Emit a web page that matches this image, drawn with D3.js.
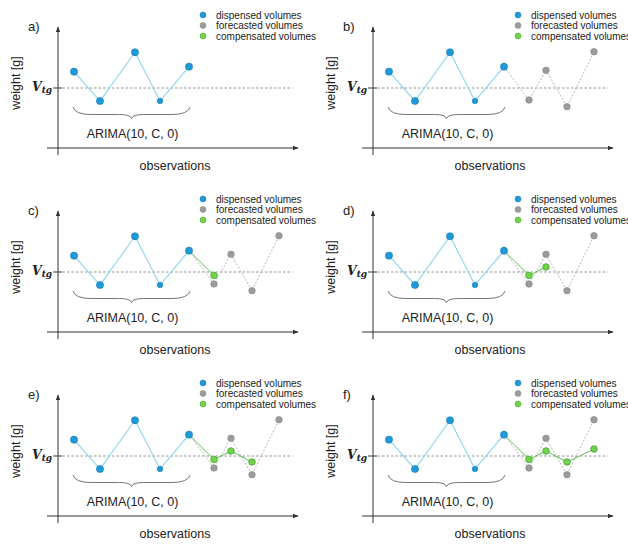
<!DOCTYPE html>
<html>
<head>
<meta charset="utf-8">
<script src="https://cdn.jsdelivr.net/npm/d3@7/dist/d3.min.js"></script>
<style>
  html, body { margin: 0; padding: 0; background: #fff; }
  svg { display: block; }
  text { font-family: "Liberation Sans", Arial, sans-serif; fill: #222; }
</style>
</head>
<body>
<svg id="chart" width="628" height="544"></svg>
<script>
// ---- data ----
const panelLabels = ["a)", "b)", "c)", "d)", "e)", "f)"];
const dispensedX = [1.6, 4.2, 7.7, 10.2, 13.1];
const dispensedY = [7.63, 4.7, 9.57, 4.7, 8.13];
const forecastX = [15.6, 17.3, 19.4, 22.1];
const forecastY = [4.8, 7.77, 4.13, 9.63];
const compensatedY = [5.65, 6.5, 5.4, 6.7];
const forecastShown = [0, 4, 4, 4, 4, 4];
const compensatedShown = [0, 0, 1, 2, 3, 4];
const vtgValue = 6;
const legendLabels = ["dispensed volumes", "forecasted volumes", "compensated volumes"];
const arimaLabel = "ARIMA(10, \u03F9, 0)";
const xAxisLabel = "observations";
const yAxisLabel = "weight [g]";

// ---- styles ----
const C = {
  blueFill: "#1f9ad8", blueStroke: "#1878b4", blueLine: "#8fd3f0",
  grayFill: "#9b9b9b", grayStroke: "#8a8a8a", grayLine: "#b0b0b0",
  greenFill: "#74d14a", greenStroke: "#3b9e35", greenLine: "#62bf55",
  axis: "#333", vtg: "#888", brace: "#666"
};

const svg = d3.select("#chart");
const x = d3.scaleLinear().domain([0, 24]).range([58, 298]);
const y = d3.scaleLinear().domain([0, 12]).range([148, 28]);

const defs = svg.append("defs");
defs.append("marker").attr("id", "arrow")
  .attr("viewBox", "0 0 10 10").attr("refX", 9).attr("refY", 5)
  .attr("markerWidth", 6).attr("markerHeight", 6).attr("orient", "auto")
  .append("path").attr("d", "M0,1 L10,5 L0,9 Z").attr("fill", C.axis);

const line = d3.line().x(d => x(d[0])).y(d => y(d[1]));

panelLabels.forEach((lab, i) => {
  const col = i % 2, row = Math.floor(i / 2);
  const g = svg.append("g").attr("transform", `translate(${col * 315},${row * 184})`);

  // axes
  g.append("line").attr("x1", x(-1.1)).attr("x2", x(24)).attr("y1", y(0)).attr("y2", y(0))
    .attr("stroke", C.axis).attr("stroke-width", 1).attr("marker-end", "url(#arrow)");
  g.append("line").attr("x1", x(0)).attr("x2", x(0)).attr("y1", y(-0.7)).attr("y2", y(12.1))
    .attr("stroke", C.axis).attr("stroke-width", 1).attr("marker-end", "url(#arrow)");

  // Vtg tick + dashed line
  g.append("line").attr("x1", x(-0.5)).attr("x2", x(0.4)).attr("y1", y(vtgValue)).attr("y2", y(vtgValue))
    .attr("stroke", C.axis).attr("stroke-width", 1);
  g.append("line").attr("x1", x(0)).attr("x2", x(23.45)).attr("y1", y(vtgValue)).attr("y2", y(vtgValue))
    .attr("stroke", C.vtg).attr("stroke-width", 0.9).attr("stroke-dasharray", "2.5,2");

  const vt = g.append("text").attr("x", 32).attr("y", y(vtgValue) + 2.5)
    .style("font-family", "'DejaVu Serif', 'Liberation Serif', serif")
    .style("font-weight", "bold").style("font-style", "italic").style("font-size", "12.5px");
  vt.append("tspan").text("V");
  vt.append("tspan").attr("dy", 2).style("font-size", "9px").text("tg");

  // labels
  g.append("text").attr("x", 28).attr("y", 31).style("font-size", "13px").text(lab);
  g.append("text").attr("transform", `translate(20,${y(6.5)}) rotate(-90)`)
    .attr("text-anchor", "middle").style("font-size", "12.5px").text(yAxisLabel);
  g.append("text").attr("x", x(11.7)).attr("y", 170).attr("text-anchor", "middle")
    .style("font-size", "12.5px").text(xAxisLabel);

  // brace
  const bx0 = x(1.5), bx1 = x(13.2), bm = (bx0 + bx1) / 2;
  const by0 = y(4.1), byM = y(3.35), byT = y(2.95);
  g.append("path")
    .attr("d", `M${bx0},${by0} Q${bx0 + 2},${byM} ${bx0 + 18},${byM} L${bm - 12},${byM}` +
               ` Q${bm - 1},${byM} ${bm},${byT} Q${bm + 1},${byM} ${bm + 12},${byM}` +
               ` L${bx1 - 18},${byM} Q${bx1 - 2},${byM} ${bx1},${by0}`)
    .attr("fill", "none").attr("stroke", C.brace).attr("stroke-width", 0.9);
  g.append("text").attr("x", bm + 1).attr("y", 138).attr("text-anchor", "middle")
    .style("font-size", "12.5px").text(arimaLabel);

  const disp = dispensedX.map((d, k) => [d, dispensedY[k]]);
  const last = disp[disp.length - 1];
  const nf = forecastShown[i], nc = compensatedShown[i];

  // forecast lines + points
  if (nf > 0) {
    const fc = [last].concat(forecastX.slice(0, nf).map((d, k) => [d, forecastY[k]]));
    g.append("path").attr("d", line(fc)).attr("fill", "none")
      .attr("stroke", C.grayLine).attr("stroke-width", 0.9).attr("stroke-dasharray", "2,1.6");
  }
  // compensated line
  if (nc > 0) {
    const cc = [last].concat(forecastX.slice(0, nc).map((d, k) => [d, compensatedY[k]]));
    g.append("path").attr("d", line(cc)).attr("fill", "none")
      .attr("stroke", C.greenLine).attr("stroke-width", 1);
  }
  // dispensed line
  g.append("path").attr("d", line(disp)).attr("fill", "none")
    .attr("stroke", C.blueLine).attr("stroke-width", 1.1);

  if (nf > 0) {
    g.selectAll(".fp").data(forecastX.slice(0, nf).map((d, k) => [d, forecastY[k]])).enter()
      .append("circle").attr("cx", d => x(d[0])).attr("cy", d => y(d[1])).attr("r", 3.3)
      .attr("fill", C.grayFill).attr("stroke", C.grayStroke).attr("stroke-width", 0.6);
  }
  g.selectAll(".dp").data(disp).enter()
    .append("circle").attr("cx", d => x(d[0])).attr("cy", d => y(d[1]))
    .attr("r", (d, k) => k === 3 ? 2.8 : 3.6)
    .attr("fill", C.blueFill).attr("stroke", C.blueStroke).attr("stroke-width", 0.6);
  if (nc > 0) {
    g.selectAll(".cp").data(forecastX.slice(0, nc).map((d, k) => [d, compensatedY[k]])).enter()
      .append("circle").attr("cx", d => x(d[0])).attr("cy", d => y(d[1])).attr("r", 3.3)
      .attr("fill", C.greenFill).attr("stroke", C.greenStroke).attr("stroke-width", 0.7);
  }

  // legend
  const lf = [C.blueFill, C.grayFill, C.greenFill];
  const ls = [C.blueStroke, C.grayStroke, C.greenStroke];
  legendLabels.forEach((t, k) => {
    const ly = 15 + k * 10.5;
    g.append("circle").attr("cx", 203).attr("cy", ly).attr("r", 3)
      .attr("fill", lf[k]).attr("stroke", ls[k]).attr("stroke-width", 0.5);
    g.append("text").attr("x", 216).attr("y", ly + 3.6).style("font-size", "10px").text(t);
  });
});
</script>
</body>
</html>
